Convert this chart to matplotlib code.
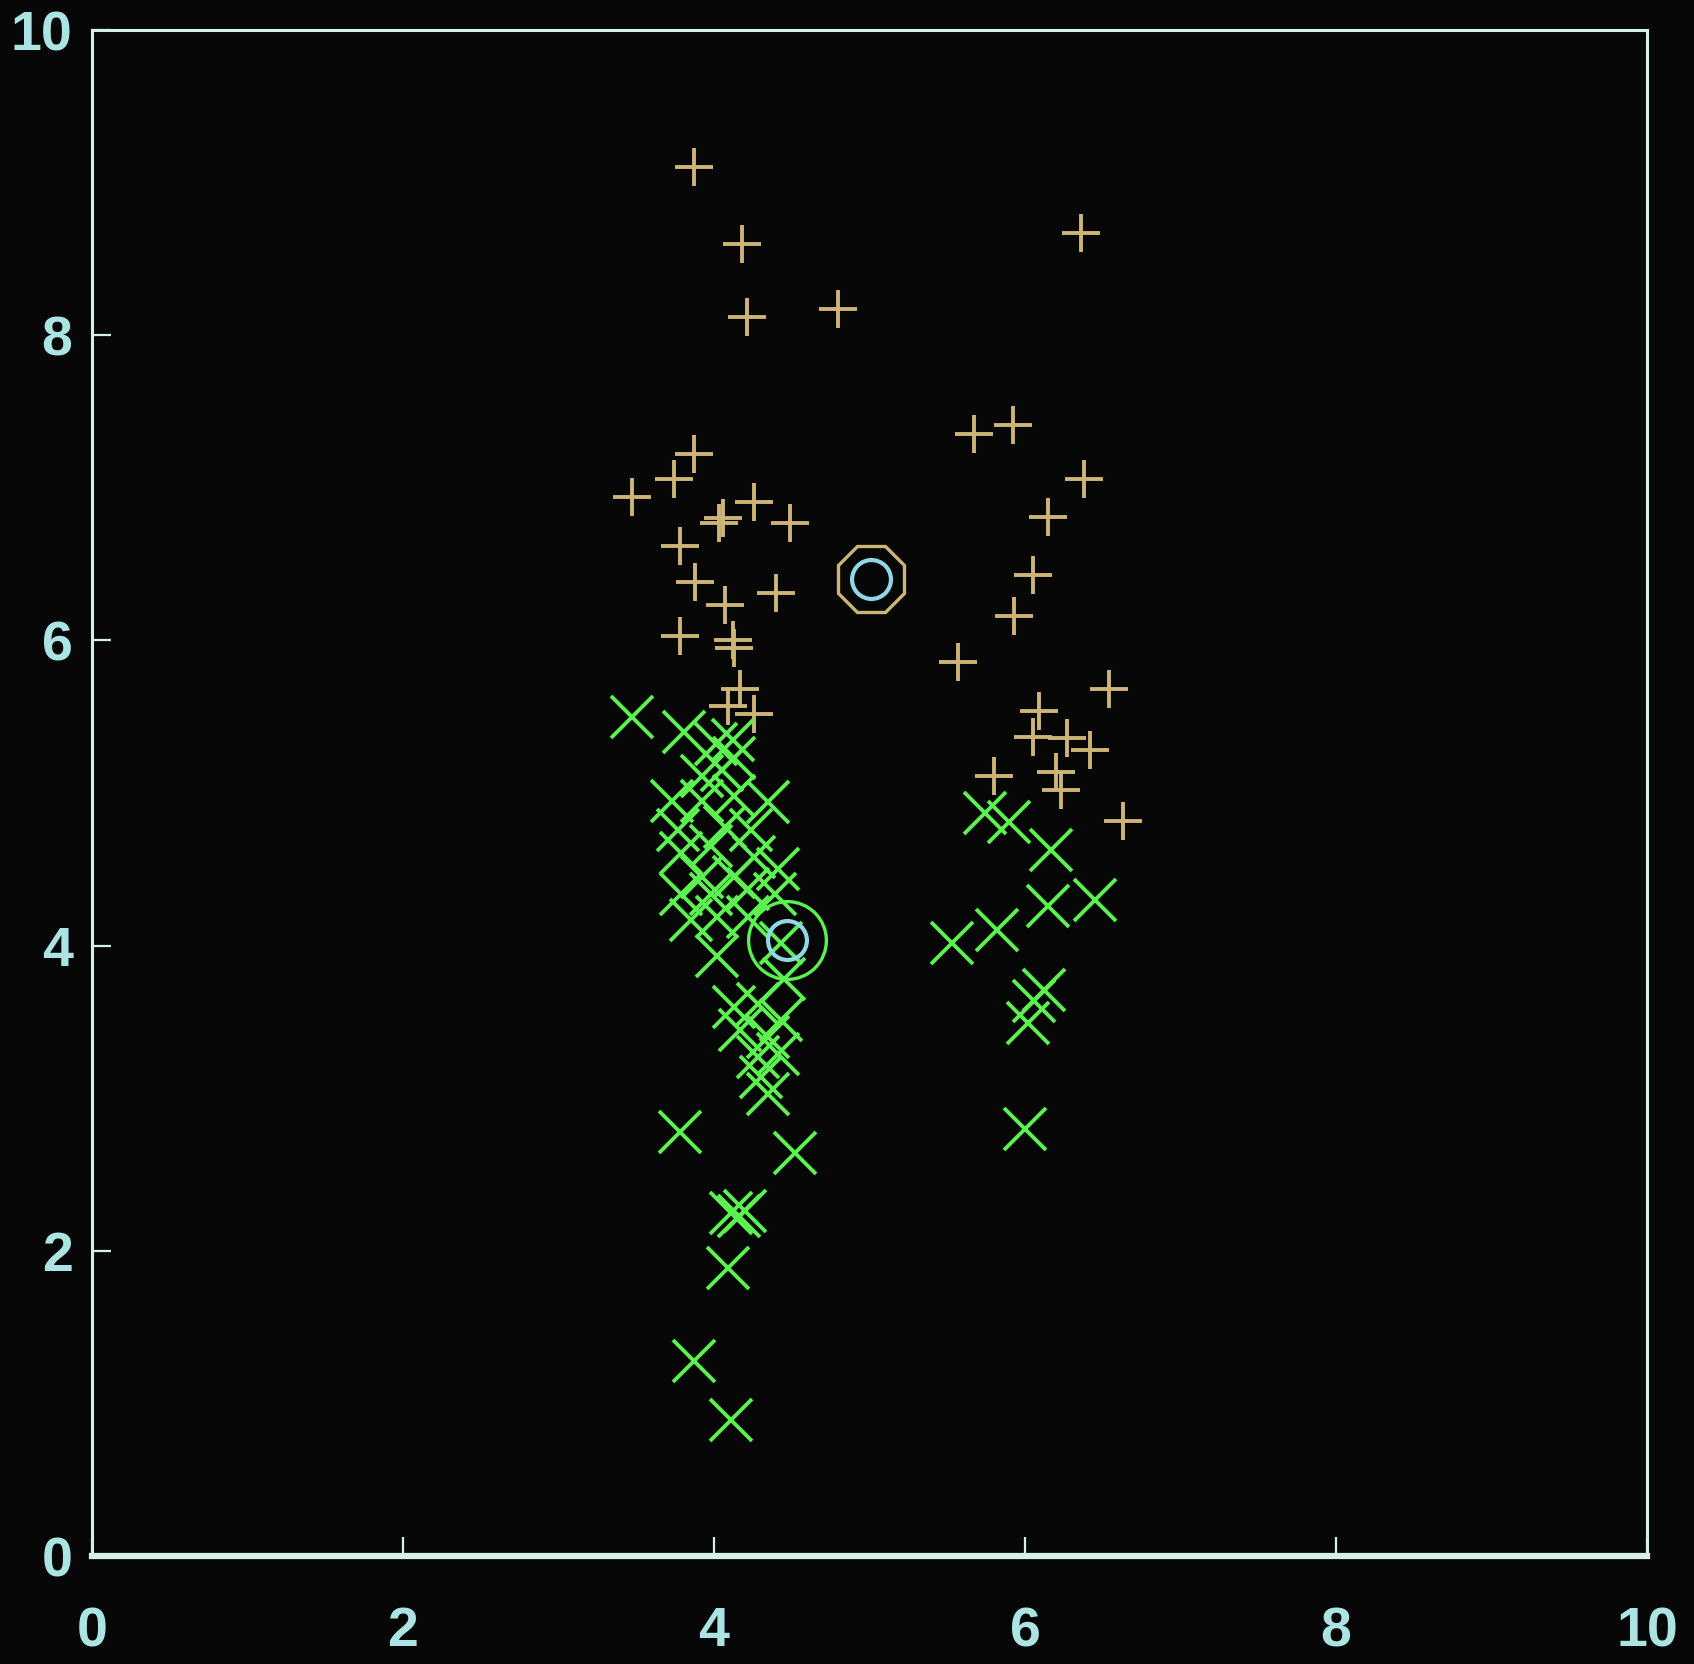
import matplotlib
matplotlib.use("Agg")
import matplotlib.pyplot as plt

# Cluster A ("+" markers)
tan_x = [3.87, 4.18, 4.21, 4.80, 6.36,
         5.67, 5.92, 6.38, 6.15, 6.05, 5.93, 5.57, 6.54, 6.09, 6.05, 6.27, 6.42,
         6.20, 6.23, 5.80, 6.63,
         3.47, 3.74, 3.87, 4.03, 4.06, 4.26, 4.49, 3.78, 3.88, 4.07, 4.40, 3.78,
         4.12, 4.13, 4.17, 4.26, 4.09]
tan_y = [9.10, 8.60, 8.12, 8.17, 8.67,
         7.35, 7.41, 7.06, 6.81, 6.43, 6.16, 5.86, 5.68, 5.54, 5.37, 5.36, 5.28,
         5.14, 5.02, 5.11, 4.82,
         6.94, 7.06, 7.22, 6.77, 6.80, 6.91, 6.77, 6.62, 6.38, 6.23, 6.31, 6.03,
         6.00, 5.95, 5.68, 5.52, 5.57]

# Cluster B ("x" markers)
green_x = [3.47, 3.81, 4.01, 4.12, 4.13, 4.05, 3.92, 3.73, 3.92, 4.35, 4.13,
           3.77, 4.07, 4.24, 3.79, 3.98, 4.26, 4.41, 3.92, 4.13, 3.79, 3.98,
           4.22, 4.39, 3.85, 4.02, 4.22, 4.43, 4.02, 4.45, 4.13, 4.28, 4.43,
           4.17, 4.35, 4.28, 4.41, 4.30, 4.35, 3.78, 4.52, 4.11, 4.16, 4.20,
           4.09, 3.87, 4.11,
           5.74, 5.90, 6.17, 6.45, 6.15, 5.82, 5.53, 6.12, 6.06, 6.02, 6.00]
green_y = [5.50, 5.40, 5.32, 5.35, 5.23, 5.15, 5.11, 4.95, 4.95, 4.94, 4.98,
           4.76, 4.78, 4.76, 4.61, 4.65, 4.58, 4.50, 4.45, 4.45, 4.34, 4.34,
           4.37, 4.34, 4.17, 4.19, 4.19, 4.02, 3.93, 3.78, 3.60, 3.62, 3.51,
           3.45, 3.40, 3.27, 3.29, 3.14, 3.03, 2.78, 2.64, 2.25, 2.23, 2.26,
           1.89, 1.28, 0.89,
           4.87, 4.81, 4.63, 4.30, 4.26, 4.10, 4.02, 3.71, 3.64, 3.49, 2.80]

# Cluster centres
centre_x = [5.01, 4.47]
centre_y = [6.40, 4.04]

ticks = [0, 2, 4, 6, 8, 10]
tick_labels = ["0", "2", "4", "6", "8", "10"]

TAN = "#ccb577"
GREEN = "#5cf050"
CYAN = "#8fd8e6"
FRAME = "#d6efe8"
LABEL = "#ace4e4"
BG = "#070707"

fig = plt.figure(figsize=(16.94, 16.64), dpi=100, facecolor=BG)
ax = fig.add_axes([0.0543, 0.0649, 0.918, 0.917], facecolor=BG)

ax.plot(tan_x, tan_y, linestyle="none", marker="+", ms=28, mew=2.8,
        color=TAN)
ax.plot(green_x, green_y, linestyle="none", marker="x", ms=30, mew=2.8,
        color=GREEN)

# centre markers: outer ring in cluster colour, inner cyan ring
ax.plot(centre_x[0], centre_y[0], linestyle="none", marker="8", ms=52,
        mfc="none", mec=TAN, mew=2.4)
ax.plot(centre_x[1], centre_y[1], linestyle="none", marker="o", ms=56,
        mfc="none", mec=GREEN, mew=2.4)
ax.plot(centre_x, centre_y, linestyle="none", marker="o", ms=28,
        mfc="none", mec=CYAN, mew=3.0)

ax.set_xlim(0, 10)
ax.set_ylim(0, 10)
ax.set_xticks(ticks)
ax.set_xticklabels(tick_labels)
ax.set_yticks(ticks)
ax.set_yticklabels(tick_labels)

for side, sp in ax.spines.items():
    sp.set_color(FRAME)
    sp.set_linewidth(2.2)
ax.spines["bottom"].set_linewidth(4.5)

ax.tick_params(axis="both", direction="in", length=14, width=1.6,
               color=FRAME, labelcolor=LABEL, labelsize=40)
ax.tick_params(axis="x", pad=36)
ax.tick_params(axis="y", pad=14)
for lab in ax.get_xticklabels() + ax.get_yticklabels():
    lab.set_fontfamily("Liberation Sans")
    lab.set_fontweight("bold")

fig.savefig("out.png", dpi=100, facecolor=BG)
